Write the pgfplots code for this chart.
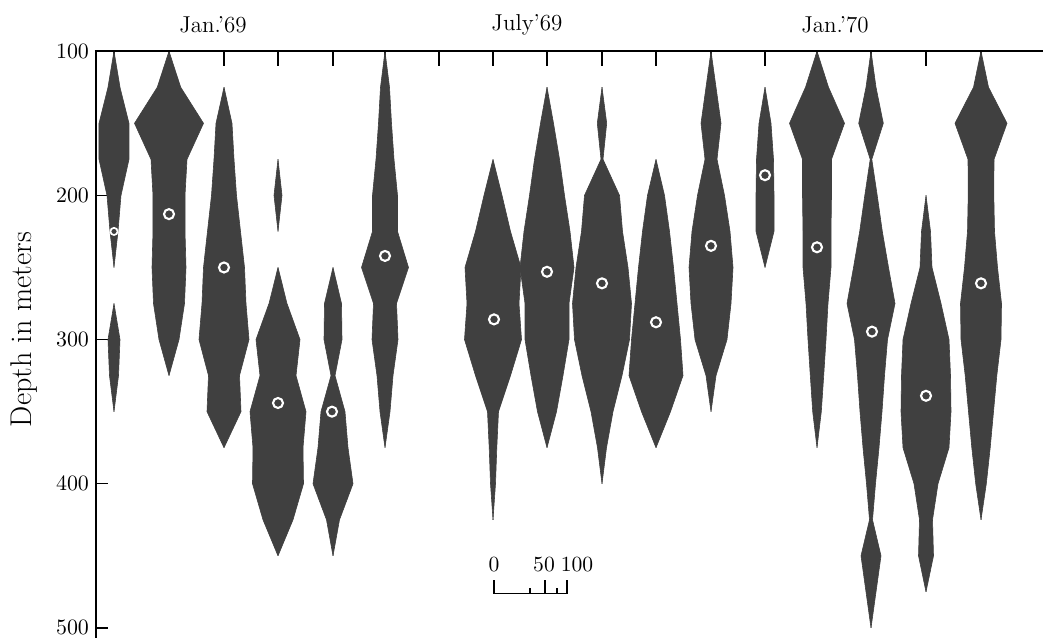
\documentclass[border=0pt]{standalone}
\usepackage{pgfplots}
\usepackage{pgfplotstable}
\pgfplotsset{compat=1.18}
\definecolor{kitegray}{gray}{0.25}
\pgfplotsset{kite/.style={fill=kitegray, draw=kitegray, line width=0.3pt, line join=round}}
\newcommand\kiteplot[2]{%
  \addplot[kite] table[x expr=#1+\thisrow{w}, y=d] {#2};
  \addplot[kite] table[x expr=#1-\thisrow{w}, y=d] {#2};}
% half-widths (w) of each kite at depth d
\pgfplotstableread[row sep=\\]{d w\\100 0\\125 6\\150 15\\175 15\\200 7\\225 4\\250 0\\}\kAa
\pgfplotstableread[row sep=\\]{d w\\275 0\\300 6\\325 4.5\\350 0\\}\kAb
\pgfplotstableread[row sep=\\]{d w\\100 0\\125 11.7\\150 34.5\\175 18\\200 16\\225 16\\250 17\\275 15.5\\300 10\\325 0\\}\kB
\pgfplotstableread[row sep=\\]{d w\\125 0\\150 8\\175 10\\200 12.5\\225 16.5\\250 20.5\\275 22\\300 25\\325 15.5\\350 17\\375 0\\}\kC
\pgfplotstableread[row sep=\\]{d w\\175 0\\200 4\\225 0\\}\kDa
\pgfplotstableread[row sep=\\]{d w\\250 0\\275 9\\300 22\\325 18\\350 28\\375 25\\400 25.5\\425 15\\450 0\\}\kDb
\pgfplotstableread[row sep=\\]{d w\\250 0\\275 8.5\\300 9\\325 2\\350 12\\375 15\\400 20\\425 6.5\\450 0\\}\kE
\pgfplotstableread[row sep=\\]{d w\\100 0\\125 4.5\\150 6.5\\175 9\\200 12.5\\225 12.5\\250 23.5\\275 11.5\\300 13\\325 8\\350 5\\375 0\\}\kF
\pgfplotstableread[row sep=\\]{d w\\175 0\\200 9\\225 17.5\\250 28\\275 26\\300 28.5\\325 17.5\\350 5.5\\375 3.8\\400 2.5\\425 0\\}\kG
\pgfplotstableread[row sep=\\]{d w\\125 0\\150 6.5\\175 12.5\\200 17.5\\225 23\\250 27\\275 22\\300 22\\325 16\\350 9.5\\375 0\\}\kH
\pgfplotstableread[row sep=\\]{d w\\125 0\\150 4.7\\175 1\\200 17.5\\225 20.5\\250 26\\275 29.5\\300 27.5\\325 20\\350 11\\375 4.5\\400 0\\}\kI
\pgfplotstableread[row sep=\\]{d w\\175 0\\200 8.5\\225 13.5\\250 17.5\\275 21\\300 24.5\\325 27\\350 14.5\\375 0\\}\kJ
\pgfplotstableread[row sep=\\]{d w\\100 0\\125 5\\150 10\\175 6\\200 13.5\\225 19\\250 22\\275 20\\300 16\\325 5\\350 0\\}\kK
\pgfplotstableread[row sep=\\]{d w\\125 0\\150 6\\175 8.5\\200 9\\225 9\\250 0\\}\kL
\pgfplotstableread[row sep=\\]{d w\\100 0\\125 11.5\\150 27.5\\175 14.5\\200 14.5\\225 14\\250 14\\275 11\\300 9\\325 6.7\\350 4.3\\375 0\\}\kM
\pgfplotstableread[row sep=\\]{d w\\100 0\\125 5\\150 12.3\\175 0.8\\200 6.2\\225 11.3\\250 17.5\\275 24\\300 16.5\\325 13.5\\350 11\\375 8\\400 4.5\\425 1.5\\450 10\\475 5\\500 0\\}\kN
\pgfplotstableread[row sep=\\]{d w\\200 0\\225 4.5\\250 6\\275 15\\300 23\\325 24.5\\350 25\\375 23\\400 12\\425 6.5\\450 7.5\\475 0\\}\kO
\pgfplotstableread[row sep=\\]{d w\\100 0\\125 7.5\\150 26\\175 13\\200 12.8\\225 13.5\\250 16.5\\275 20.5\\300 20\\325 15.8\\350 12.5\\375 9.2\\400 5.3\\425 0\\}\kP
\begin{document}
\begin{tikzpicture}
\path[use as bounding box] (-48pt,0) rectangle (473.5pt,319pt);
\begin{axis}[
  at={(0,0)}, anchor=south west,
  scale only axis, width=473.5pt, height=293.4pt,
  xmin=96, xmax=1043, ymin=100, ymax=507, y dir=reverse,
  axis line style={draw=none},
  xtick=\empty,
  ytick={100,200,300,400,500}, ytick pos=left, tick align=inside,
  major tick length=6pt,
  every tick/.style={black, line width=0.6pt},
  yticklabel style={font=\fontsize{10.8}{12}\selectfont},
  clip=false,
]
\pgfplotsinvokeforeach{114,169,224,278,333,385,439,493,547,602,656,711,765,817,871,926,981}{
  \draw[line width=0.6pt] (axis cs:#1,100) -- ++(0pt,-7.5pt);}
\kiteplot{114}{\kAa}
\kiteplot{114}{\kAb}
\kiteplot{169}{\kB}
\kiteplot{224}{\kC}
\kiteplot{278}{\kDa}
\kiteplot{278}{\kDb}
\kiteplot{333}{\kE}
\kiteplot{385}{\kF}
\kiteplot{493}{\kG}
\kiteplot{547}{\kH}
\kiteplot{602}{\kI}
\kiteplot{656}{\kJ}
\kiteplot{711}{\kK}
\kiteplot{765}{\kL}
\kiteplot{817}{\kM}
\kiteplot{871}{\kN}
\kiteplot{926}{\kO}
\kiteplot{981}{\kP}
% mean depths
\addplot[only marks, mark=o, white, mark size=1.8pt, line width=0.85pt] coordinates {(114,225)};
\addplot[only marks, mark=o, white, mark size=2.5pt, line width=1.05pt] coordinates {
  (169,213) (224,250) (278,344) (332,350) (385,242) (494,286) (547,253) (602,261)
  (656,288) (711,235) (765,186) (817,236) (872,294.5) (926,339) (981,261)};
% axis lines
\draw[line width=0.6pt] (axis cs:96,100) -- (axis cs:96,507);
\draw[line width=1.1pt] (axis cs:95,100) -- (axis cs:1043,100);
% period labels
\node[font=\fontsize{11.5}{13}\selectfont] at (axis cs:213,100) [yshift=13pt] {Jan.'69};
\node[font=\fontsize{11.5}{13}\selectfont] at (axis cs:527,100) [yshift=13pt] {July'69};
\node[font=\fontsize{11.5}{13}\selectfont] at (axis cs:835,100) [yshift=13pt] {Jan.'70};
% y label
\node[rotate=90, font=\fontsize{15}{18}\selectfont] at (axis cs:24,293) {Depth in meters};
% scale bar
\draw[line width=0.6pt] (axis cs:494,476.4) -- (axis cs:567,476.4);
\draw[line width=0.6pt] (axis cs:494,476.4) -- ++(0pt,7pt);
\draw[line width=0.6pt] (axis cs:545,476.4) -- ++(0pt,7pt);
\draw[line width=0.6pt] (axis cs:567,476.4) -- ++(0pt,7pt);
\draw[line width=0.6pt] (axis cs:530,476.4) -- ++(0pt,3pt);
\draw[line width=0.6pt] (axis cs:557,476.4) -- ++(0pt,3pt);
\node[anchor=base, font=\fontsize{10.8}{12}\selectfont, inner sep=0pt] at (axis cs:494,461.2) {0};
\node[anchor=base, font=\fontsize{10.8}{12}\selectfont, inner sep=0pt] at (axis cs:544,461.2) {50};
\node[anchor=base, font=\fontsize{10.8}{12}\selectfont, inner sep=0pt] at (axis cs:577,461.2) {100};
\end{axis}
\end{tikzpicture}
\end{document}
